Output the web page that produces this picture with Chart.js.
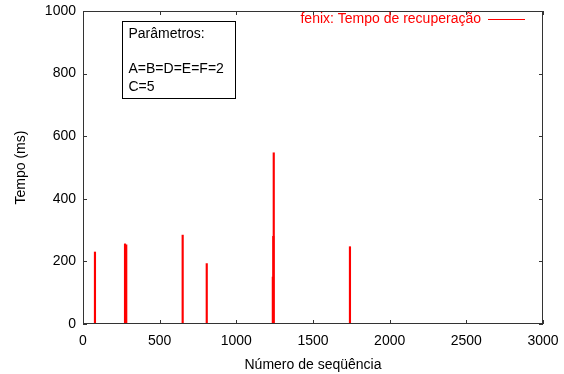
<!DOCTYPE html>
<html>
<head>
<meta charset="utf-8">
<script src="https://cdn.jsdelivr.net/npm/chart.js@4/dist/chart.umd.min.js"></script>
<style>
  html, body { margin: 0; padding: 0; background: #fff; }
  #wrap { width: 564px; height: 374px; }
</style>
</head>
<body>
<div id="wrap"><canvas id="c"></canvas></div>
<script>
// Recovery time spikes per sequence number
const seqNumbers = [78, 274, 282, 650, 807, 1238, 1241, 1244, 1741];
const recoveryMs = [230, 256, 253, 284, 193, 150, 280, 547, 247];
const seriesLabel = 'fenix: Tempo de recuperação';
const paramLines = ['Parâmetros:', '', 'A=B=D=E=F=2', 'C=5'];
const xTicks = [0, 500, 1000, 1500, 2000, 2500, 3000];
const yTicks = [0, 200, 400, 600, 800, 1000];

const FONT = '"Liberation Sans", Arial, sans-serif';
const AXIS = '#333';

// Frame, mirrored inward tics, key and parameter box
const framePlugin = {
  id: 'frame',
  afterDraw(chart) {
    const { ctx, chartArea: a, scales: { x, y } } = chart;
    const t = 4;
    ctx.save();
    ctx.strokeStyle = AXIS;
    ctx.lineWidth = 1;
    ctx.strokeRect(a.left + 0.5, a.top + 0.5, a.right - a.left - 1, a.bottom - a.top - 1);
    ctx.beginPath();
    xTicks.forEach(v => {
      const px = Math.round(x.getPixelForValue(v)) + 0.5;
      ctx.moveTo(px, a.bottom); ctx.lineTo(px, a.bottom - t);
      ctx.moveTo(px, a.top); ctx.lineTo(px, a.top + t);
    });
    yTicks.forEach(v => {
      const py = Math.round(y.getPixelForValue(v)) + 0.5;
      ctx.moveTo(a.left, py); ctx.lineTo(a.left + t, py);
      ctx.moveTo(a.right, py); ctx.lineTo(a.right - t, py);
    });
    ctx.stroke();

    // key
    ctx.font = '14px ' + FONT;
    ctx.textBaseline = 'middle';
    ctx.textAlign = 'right';
    ctx.fillStyle = '#ff0000';
    const ky = a.top + 8.5;
    ctx.fillText(seriesLabel, a.right - 62, ky);
    ctx.strokeStyle = '#ff0000';
    ctx.beginPath();
    ctx.moveTo(a.right - 55, ky); ctx.lineTo(a.right - 18, ky);
    ctx.stroke();

    // parameter box
    const bx = a.left + 39.5, by = a.top + 10.5, bw = 113, bh = 77;
    ctx.strokeStyle = '#000';
    ctx.strokeRect(bx, by, bw, bh);
    ctx.fillStyle = '#000';
    ctx.textAlign = 'left';
    paramLines.forEach((s, i) => {
      if (s) ctx.fillText(s, bx + 6, by + 13 + i * 17.5);
    });
    ctx.restore();
  }
};

new Chart(document.getElementById('c'), {
  type: 'bar',
  data: {
    datasets: [{
      label: seriesLabel,
      data: seqNumbers.map((s, i) => ({ x: s, y: recoveryMs[i] })),
      backgroundColor: '#ff0000',
      borderWidth: 0,
      barThickness: 1.5
    }]
  },
  options: {
    responsive: true,
    maintainAspectRatio: false,
    animation: false,
    layout: { padding: { top: 11, right: 21, left: 0, bottom: 0 } },
    plugins: { legend: { display: false }, tooltip: { enabled: false } },
    scales: {
      x: {
        type: 'linear',
        offset: false,
        min: 0, max: 3000,
        afterFit(s) { s.height = 50; s.paddingLeft = 0; s.paddingRight = 0; },
        afterBuildTicks(s) { s.ticks = xTicks.map(v => ({ value: v })); },
        grid: { display: false, drawTicks: false, offset: false },
        border: { display: false },
        ticks: { color: '#000', padding: 9, maxRotation: 0, callback: v => String(v), font: { family: FONT, size: 14 } },
        title: { display: true, text: 'Número de seqüência', color: '#000', padding: { top: 8, bottom: 0 }, font: { family: FONT, size: 14 } }
      },
      y: {
        min: 0, max: 1000,
        afterFit(s) { s.width = 83; s.paddingTop = 0; s.paddingBottom = 0; },
        afterBuildTicks(s) { s.ticks = yTicks.map(v => ({ value: v })); },
        grid: { display: false, drawTicks: false },
        border: { display: false },
        ticks: { color: '#000', padding: 7, callback: v => String(v), font: { family: FONT, size: 14 } },
        title: { display: true, text: 'Tempo (ms)', color: '#000', padding: { top: 13, bottom: 0 }, font: { family: FONT, size: 14 } }
      }
    }
  },
  plugins: [framePlugin]
});
</script>
</body>
</html>
